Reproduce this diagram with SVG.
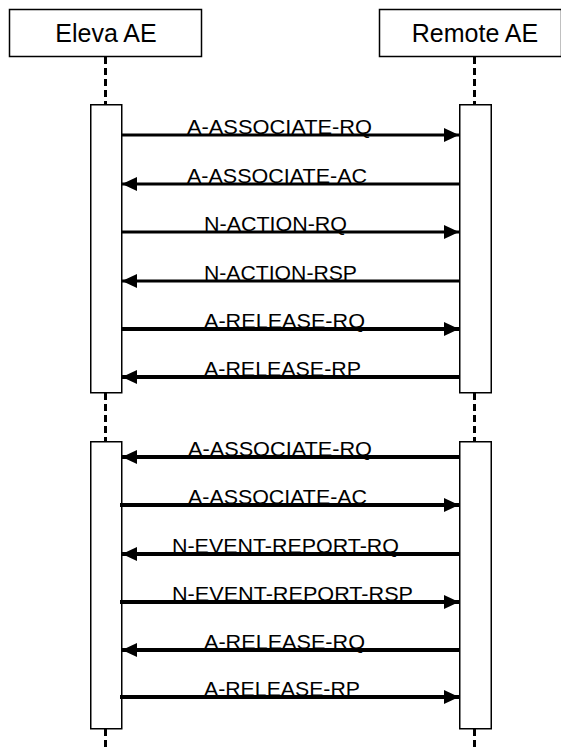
<svg xmlns="http://www.w3.org/2000/svg" width="561" height="747" viewBox="0 0 561 747">
<defs>
<style>
.hdr{fill:#fff;stroke:#000;stroke-width:1.5}
.hdrt{font-family:"Liberation Sans",Arial,sans-serif;font-size:25px;fill:#000;text-anchor:middle}
.life{stroke:#000;stroke-width:3;stroke-dasharray:7,4;fill:none}
.act{fill:#fff;stroke:#000;stroke-width:1.5}
.msg{stroke:#000;fill:none}
.lbl{font-family:"Liberation Sans",Arial,sans-serif;font-size:20px;fill:#000}
</style>
<marker id="ah" viewBox="0 0 15 14" refX="15" refY="7" markerWidth="15" markerHeight="14" markerUnits="userSpaceOnUse" orient="auto">
<path d="M0,0 L15,7 L0,14 Z" fill="#000"/>
</marker>
</defs>
<g id="lifelines">
<line class="life" x1="105.5" y1="57" x2="105.5" y2="104"/>
<line class="life" x1="105.5" y1="393" x2="105.5" y2="441"/>
<line class="life" x1="105.5" y1="729" x2="105.5" y2="747"/>
<line class="life" x1="474.5" y1="57" x2="474.5" y2="104"/>
<line class="life" x1="474.5" y1="393" x2="474.5" y2="441"/>
<line class="life" x1="474.5" y1="729" x2="474.5" y2="747"/>
</g>
<g id="eleva">
<rect class="hdr" x="9.5" y="9.5" width="192" height="47"/>
<text class="hdrt" x="106" y="42">Eleva AE</text>
</g>
<g id="remote">
<rect class="hdr" x="379.5" y="9.5" width="182" height="47"/>
<text class="hdrt" x="475" y="42">Remote AE</text>
</g>
<g id="act-eleva-1"><rect class="act" x="90.75" y="104.75" width="31" height="288"/></g>
<g id="act-remote-1"><rect class="act" x="459.75" y="104.75" width="31.5" height="288"/></g>
<g id="act-eleva-2"><rect class="act" x="90.75" y="441.75" width="31" height="287"/></g>
<g id="act-remote-2"><rect class="act" x="459.75" y="441.75" width="31.5" height="287"/></g>
<g id="connectors">
<line class="msg" stroke-width="3" x1="122" y1="135" x2="459" y2="135" marker-end="url(#ah)"/>
<line class="msg" stroke-width="3" x1="459" y1="184" x2="122" y2="184" marker-end="url(#ah)"/>
<line class="msg" stroke-width="3" x1="122" y1="232" x2="459" y2="232" marker-end="url(#ah)"/>
<line class="msg" stroke-width="3" x1="459" y1="281" x2="122" y2="281" marker-end="url(#ah)"/>
<line class="msg" stroke-width="4" x1="122" y1="329" x2="459" y2="329" marker-end="url(#ah)"/>
<line class="msg" stroke-width="4" x1="459" y1="377" x2="122" y2="377" marker-end="url(#ah)"/>
<line class="msg" stroke-width="4" x1="459" y1="457" x2="122" y2="457" marker-end="url(#ah)"/>
<line class="msg" stroke-width="4" x1="120" y1="505" x2="459" y2="505" marker-end="url(#ah)"/>
<line class="msg" stroke-width="4" x1="459" y1="554" x2="122" y2="554" marker-end="url(#ah)"/>
<line class="msg" stroke-width="4" x1="120" y1="602" x2="459" y2="602" marker-end="url(#ah)"/>
<line class="msg" stroke-width="4" x1="459" y1="650" x2="122" y2="650" marker-end="url(#ah)"/>
<line class="msg" stroke-width="4" x1="120" y1="697" x2="459" y2="697" marker-end="url(#ah)"/>
</g>
<g id="labels">
<text class="lbl" x="187" y="134" textLength="185" lengthAdjust="spacingAndGlyphs">A-ASSOCIATE-RQ</text>
<text class="lbl" x="187" y="183" textLength="180" lengthAdjust="spacingAndGlyphs">A-ASSOCIATE-AC</text>
<text class="lbl" x="204" y="231" textLength="143" lengthAdjust="spacingAndGlyphs">N-ACTION-RQ</text>
<text class="lbl" x="204" y="280" textLength="153" lengthAdjust="spacingAndGlyphs">N-ACTION-RSP</text>
<text class="lbl" x="204" y="328" textLength="161" lengthAdjust="spacingAndGlyphs">A-RELEASE-RQ</text>
<text class="lbl" x="204" y="376" textLength="157" lengthAdjust="spacingAndGlyphs">A-RELEASE-RP</text>
<text class="lbl" x="188" y="456" textLength="184" lengthAdjust="spacingAndGlyphs">A-ASSOCIATE-RQ</text>
<text class="lbl" x="188" y="504" textLength="179" lengthAdjust="spacingAndGlyphs">A-ASSOCIATE-AC</text>
<text class="lbl" x="172" y="553" textLength="227" lengthAdjust="spacingAndGlyphs">N-EVENT-REPORT-RQ</text>
<text class="lbl" x="172" y="601" textLength="241" lengthAdjust="spacingAndGlyphs">N-EVENT-REPORT-RSP</text>
<text class="lbl" x="204" y="649" textLength="161" lengthAdjust="spacingAndGlyphs">A-RELEASE-RQ</text>
<text class="lbl" x="204" y="696" textLength="156" lengthAdjust="spacingAndGlyphs">A-RELEASE-RP</text>
</g>
</svg>
